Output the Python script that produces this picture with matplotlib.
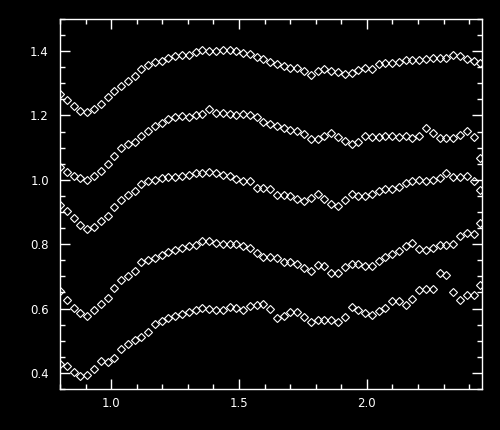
import numpy as np
import matplotlib
matplotlib.use("Agg")
import matplotlib.pyplot as plt
from matplotlib.ticker import MultipleLocator, FormatStrFormatter

# sample positions (63 points, spacing ~0.0265)
x = [0.800, 0.827, 0.853, 0.880, 0.906, 0.933, 0.959, 0.986, 1.012, 1.039,
     1.065, 1.092, 1.118, 1.145, 1.171, 1.198, 1.224, 1.251, 1.277, 1.304,
     1.330, 1.357, 1.383, 1.410, 1.436, 1.463, 1.489, 1.516, 1.542, 1.569,
     1.595, 1.622, 1.648, 1.675, 1.701, 1.728, 1.754, 1.781, 1.807, 1.834,
     1.860, 1.887, 1.913, 1.940, 1.966, 1.993, 2.019, 2.046, 2.072, 2.099,
     2.125, 2.152, 2.178, 2.205, 2.231, 2.258, 2.284, 2.311, 2.337, 2.364,
     2.390, 2.417, 2.443]

series_1 = [1.268, 1.249, 1.228, 1.214, 1.211, 1.220, 1.237, 1.256, 1.277, 1.293,
            1.308, 1.323, 1.345, 1.358, 1.366, 1.370, 1.378, 1.385, 1.389, 1.389,
            1.397, 1.403, 1.401, 1.401, 1.403, 1.404, 1.400, 1.394, 1.392, 1.382,
            1.374, 1.367, 1.360, 1.353, 1.349, 1.348, 1.338, 1.327, 1.337, 1.345,
            1.339, 1.335, 1.330, 1.332, 1.340, 1.346, 1.345, 1.359, 1.362, 1.363,
            1.366, 1.371, 1.373, 1.373, 1.377, 1.379, 1.379, 1.379, 1.387, 1.384,
            1.377, 1.370, 1.364]

series_2 = [1.039, 1.024, 1.013, 1.006, 1.001, 1.013, 1.027, 1.048, 1.073, 1.098,
            1.112, 1.119, 1.135, 1.152, 1.166, 1.176, 1.189, 1.194, 1.197, 1.194,
            1.202, 1.204, 1.220, 1.209, 1.208, 1.206, 1.202, 1.204, 1.203, 1.194,
            1.181, 1.173, 1.166, 1.160, 1.155, 1.153, 1.142, 1.127, 1.127, 1.137,
            1.145, 1.132, 1.122, 1.110, 1.119, 1.137, 1.134, 1.134, 1.136, 1.136,
            1.132, 1.135, 1.130, 1.137, 1.161, 1.147, 1.129, 1.129, 1.131, 1.139,
            1.152, 1.134, 1.067]

series_3 = [0.921, 0.904, 0.880, 0.860, 0.846, 0.854, 0.872, 0.889, 0.915, 0.937,
            0.953, 0.965, 0.986, 0.996, 1.001, 1.005, 1.008, 1.008, 1.013, 1.016,
            1.022, 1.020, 1.024, 1.021, 1.016, 1.013, 1.003, 0.996, 0.995, 0.976,
            0.975, 0.970, 0.953, 0.952, 0.950, 0.939, 0.934, 0.943, 0.957, 0.941,
            0.926, 0.919, 0.937, 0.957, 0.950, 0.950, 0.955, 0.965, 0.972, 0.972,
            0.977, 0.990, 0.995, 1.000, 0.996, 0.998, 1.006, 1.021, 1.008, 1.008,
            1.013, 0.996, 0.967]

series_4 = [0.654, 0.626, 0.602, 0.585, 0.578, 0.596, 0.614, 0.633, 0.664, 0.690,
            0.702, 0.718, 0.744, 0.752, 0.757, 0.765, 0.775, 0.782, 0.788, 0.794,
            0.796, 0.810, 0.810, 0.803, 0.802, 0.802, 0.800, 0.795, 0.788, 0.772,
            0.760, 0.760, 0.757, 0.744, 0.744, 0.738, 0.726, 0.718, 0.734, 0.733,
            0.710, 0.712, 0.729, 0.739, 0.738, 0.733, 0.733, 0.749, 0.760, 0.769,
            0.779, 0.793, 0.803, 0.785, 0.782, 0.788, 0.798, 0.798, 0.800, 0.826,
            0.836, 0.832, 0.865]

series_5 = [0.427, 0.421, 0.403, 0.389, 0.393, 0.411, 0.437, 0.435, 0.445, 0.473,
            0.489, 0.502, 0.512, 0.528, 0.551, 0.561, 0.571, 0.576, 0.584, 0.590,
            0.594, 0.602, 0.600, 0.595, 0.597, 0.606, 0.602, 0.597, 0.607, 0.610,
            0.615, 0.599, 0.571, 0.578, 0.590, 0.590, 0.574, 0.559, 0.563, 0.563,
            0.563, 0.559, 0.574, 0.605, 0.596, 0.587, 0.581, 0.592, 0.602, 0.623,
            0.623, 0.612, 0.630, 0.657, 0.662, 0.662, 0.710, 0.703, 0.652, 0.627,
            0.643, 0.641, 0.672]

fig = plt.figure(figsize=(5.0, 4.3), dpi=100, facecolor='black')
ax = fig.add_axes([0.12, 0.0953, 0.844, 0.8607], facecolor='black')

for ys in [series_1, series_2, series_3, series_4, series_5]:
    ax.plot(x, ys, linestyle='none', marker='D', markersize=3.6,
            markerfacecolor='none', markeredgecolor='white', markeredgewidth=0.8,
            clip_on=True)

ax.set_xlim(0.8, 2.45)
ax.set_ylim(0.35, 1.5)

ax.xaxis.set_major_locator(MultipleLocator(0.5))
ax.xaxis.set_minor_locator(MultipleLocator(0.1))
ax.yaxis.set_major_locator(MultipleLocator(0.2))
ax.yaxis.set_minor_locator(MultipleLocator(0.05))
ax.xaxis.set_major_formatter(FormatStrFormatter('%.1f'))
ax.yaxis.set_major_formatter(FormatStrFormatter('%.1f'))

for s in ax.spines.values():
    s.set_color('white')
    s.set_linewidth(1.0)

ax.tick_params(which='both', direction='in', colors='white', top=True, right=True,
               labelsize=8.5, width=1.0)
ax.tick_params(which='major', length=7)
ax.tick_params(which='minor', length=3.5)
ax.tick_params(axis='x', which='major', pad=6)
ax.tick_params(axis='y', which='major', pad=8)

fig.savefig('out.png', dpi=100, facecolor='black')
